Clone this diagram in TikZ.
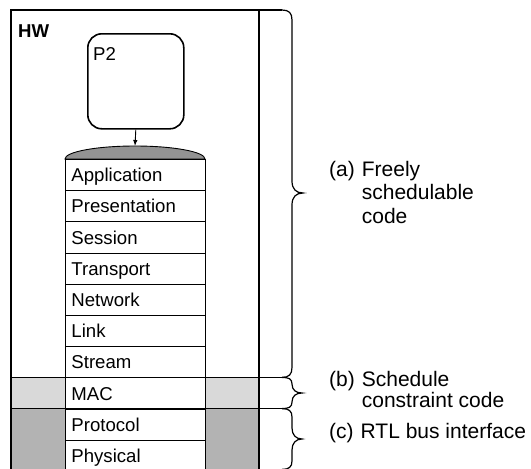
\documentclass[tikz,border=0pt]{standalone}
\usepackage{fontspec}
\setmainfont{Liberation Sans}
\usetikzlibrary{arrows.meta}
\definecolor{macgray}{HTML}{D9D9D9}
\definecolor{rtlgray}{HTML}{B3B3B3}
\definecolor{domegray}{HTML}{939393}
\begin{document}
\begin{tikzpicture}[x=1pt,y=-1pt,
  layer/.style={draw,line width=0.9pt,fill=white,anchor=north west,minimum width=140pt,
    minimum height=31.2pt,text width=128pt,inner xsep=6pt,inner ysep=0pt,align=left,
    text height=13.3pt,text depth=0pt,font=\fontsize{18.6}{22}\selectfont},
  frame/.style={line width=1.7pt},
  bracepath/.style={line width=1.2pt},
  lbl/.style={font=\fontsize{21}{23.5}\selectfont,anchor=base west,inner sep=0pt},
  plain/.style={font=\fontsize{18.6}{22}\selectfont,anchor=base west,inner sep=0pt}]
\useasboundingbox (0,0) rectangle (531,469);
% band fills
\fill[macgray] (11,377.4) rectangle (259,408.6);
\fill[rtlgray] (11,408.6) rectangle (259,472);
% frame
\draw[frame] (11,472) -- (11,10) -- (282,10);
\draw[frame] (259,10) -- (259,472);
% HW label and P2 box
\node[plain,font=\bfseries\fontsize{18.6}{22}\selectfont] (hw) at (18,37) {HW};
\node[draw,line width=1.6pt,rounded corners=14pt,minimum width=96pt,minimum height=95pt,
  anchor=north west,inner sep=0pt] (p2) at (87,33) {};
\node[plain] (p2lbl) at (93,60) {P2};
% stack dome
\path[fill=domegray,draw=black,line width=0.9pt] (65,159) .. controls (65,151.8) and (96.4,146) .. (135,146)
  .. controls (173.6,146) and (205,151.8) .. (205,159) -- cycle;
\coordinate (dometop) at (135,146);
% stack layers
\foreach \t [count=\i] in {Application,Presentation,Session,Transport,Network,Link,Stream,MAC,Protocol,Physical}
  \node[layer] (r\i) at (65,{159+31.2*(\i-1)}) {\t};
% arrow
\draw[line width=0.9pt,-{Latex[length=6pt,width=4.5pt]}] (p2.south) -- (dometop);
% thick separators
\draw[frame] (11,377.4) -- (282,377.4);
\draw[frame] (11,408.6) -- (282,408.6);
% braces
\draw[bracepath] (282,10) .. controls (289,10) and (292,13) .. (292,20) -- (292,181)
  .. controls (292,189) and (296,193) .. (303,193) .. controls (296,193) and (292,197) .. (292,205)
  -- (292,367.4) .. controls (292,374.4) and (289,377.4) .. (282,377.4);
\draw[bracepath] (282,377.4) .. controls (289,377.4) and (292,379) .. (292,384)
  .. controls (292,390) and (296,393) .. (302,393) .. controls (296,393) and (292,396) .. (292,402)
  .. controls (292,407) and (289,408.6) .. (282,408.6);
\draw[bracepath] (282,408.6) .. controls (289,408.6) and (292,411) .. (292,417) -- (292,428)
  .. controls (292,435) and (296,439) .. (302,439) .. controls (296,439) and (292,443) .. (292,450)
  -- (292,461) .. controls (292,467) and (289,469.4) .. (282,469.4);
% labels
\node[lbl] (la) at (329,176) {\begin{tabular}[t]{@{}l@{\hspace{7pt}}l@{}}(a)&Freely\\&schedulable\\&code\end{tabular}};
\node[lbl,font=\fontsize{21}{21.5}\selectfont] (lb) at (329,386) {\begin{tabular}[t]{@{}l@{\hspace{7pt}}l@{}}(b)&Schedule\\&constraint code\end{tabular}};
\node[lbl] (lc) at (329,438) {\begin{tabular}[t]{@{}l@{\hspace{7pt}}l@{}}(c)&RTL bus interface\end{tabular}};
\end{tikzpicture}
\end{document}
